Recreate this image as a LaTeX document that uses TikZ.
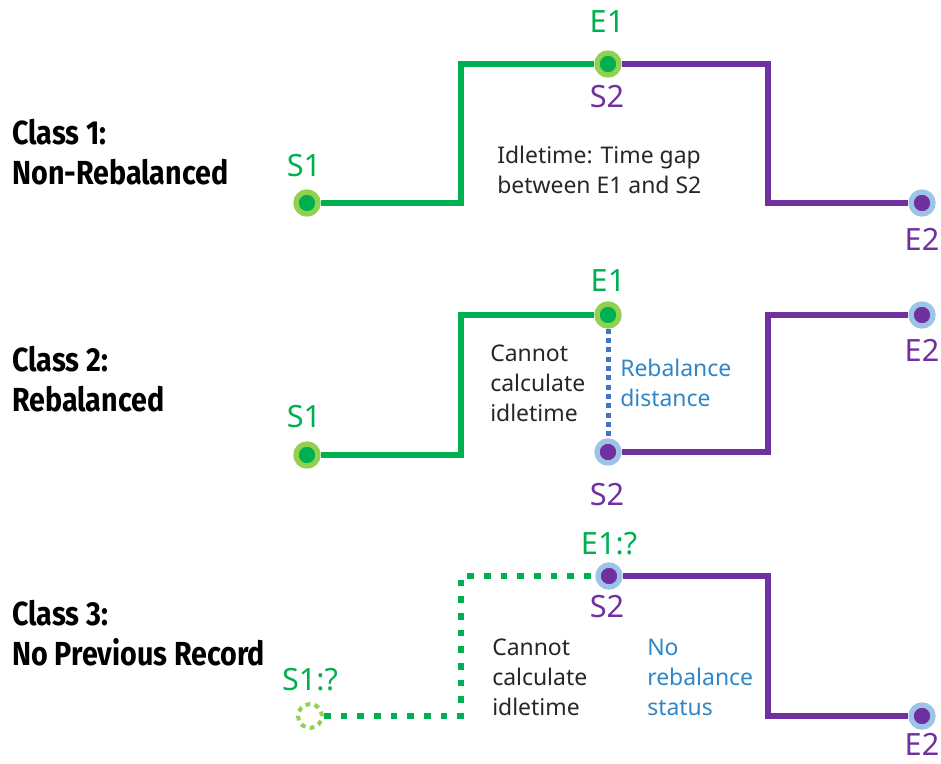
\documentclass[tikz,border=0pt]{standalone}
\usepackage{fontspec}
\setmainfont{Noto Sans}
\newfontfamily\classfont[FakeStretch=0.86]{Fira Sans}
\usetikzlibrary{positioning,backgrounds}
\definecolor{TripGreen}{RGB}{0,176,80}
\definecolor{LightGreen}{RGB}{146,208,80}
\definecolor{TripPurple}{RGB}{112,48,160}
\definecolor{LightBlue}{RGB}{157,195,230}
\definecolor{NoteBlue}{RGB}{46,134,200}
\definecolor{DotBlue}{RGB}{68,114,196}

\begin{document}
\begin{tikzpicture}[
    x=0.75pt, y=-0.75pt,
    dot/.style={circle, inner sep=0pt, minimum size=16.5pt,
                line width=4pt, draw=#1},
    gdot/.style={dot=LightGreen, fill=TripGreen},
    pdot/.style={dot=LightBlue, fill=TripPurple},
    qdot/.style={circle, inner sep=0pt, minimum size=18pt, draw=LightGreen,
                 line width=3pt, dash pattern=on 3.5pt off 3.5pt},
    gline/.style={line width=4.5pt, draw=TripGreen},
    pline/.style={line width=4.5pt, draw=TripPurple},
    qline/.style={line width=5pt, draw=TripGreen, dash pattern=on 5pt off 7.5pt},
    bline/.style={line width=3.75pt, draw=DotBlue, dash pattern=on 3.75pt off 3.25pt},
    lbl/.style={inner sep=0pt, font=\fontsize{23}{27}\selectfont, text=#1},
    note/.style={inner sep=0pt, anchor=west, align=left,
                 font=\fontsize{17.2}{22.5}\selectfont, text=#1},
    note/.default=black!85,
    classlbl/.style={inner sep=0pt, anchor=west, align=left,
                     font=\classfont\bfseries\fontsize{25}{30}\selectfont},
]
\useasboundingbox (0,0) rectangle (941,763);

% ── Class labels ──
\node[classlbl] (cls1) at (12,152) {Class 1:\\Non-Rebalanced};
\node[classlbl] (cls2) at (12,379) {Class 2:\\Rebalanced};
\node[classlbl] (cls3) at (12,633) {Class 3:\\No Previous Record};

% ── Class 1 ──
\node[gdot] (s1a) at (307,203) {};
\node[gdot] (e1a) at (608,64) {};
\node[pdot] (e2a) at (922,203) {};
\coordinate (k1a) at (461,203);
\coordinate (k1b) at (461,64);
\coordinate (k1c) at (768,64);
\coordinate (k1d) at (768,203);
\node[lbl=TripGreen] (s1alab) at (304,166) {S1};
\node[lbl=TripGreen] (e1alab) at (607,22) {E1};
\node[lbl=TripPurple] (s2alab) at (607,97) {S2};
\node[lbl=TripPurple] (e2alab) at (922,239) {E2};
\node[note] (idle) at (497,170) {Idletime: Time gap\\between E1 and S2};

% ── Class 2 ──
\node[gdot] (s1b) at (307,455) {};
\node[gdot] (e1b) at (608,315) {};
\node[pdot] (s2b) at (608,452) {};
\node[pdot] (e2b) at (922,315) {};
\coordinate (k2a) at (461,455);
\coordinate (k2b) at (461,315);
\coordinate (k2c) at (768,452);
\coordinate (k2d) at (768,315);
\node[lbl=TripGreen] (s1blab) at (304,417) {S1};
\node[lbl=TripGreen] (e1blab) at (608,281) {E1};
\node[lbl=TripPurple] (s2blab) at (607,495) {S2};
\node[lbl=TripPurple] (e2blab) at (922,350) {E2};
\node[note] (nocalcb) at (490,383) {Cannot\\calculate\\idletime};
\node[note=NoteBlue] (rebdist) at (620,383) {Rebalance\\distance};

% ── Class 3 ──
\node[qdot] (s1c) at (310,716) {};
\node[pdot] (s2c) at (609,576) {};
\node[pdot] (e2c) at (922,716) {};
\coordinate (k3a) at (461,716);
\coordinate (k3b) at (461,576);
\coordinate (k3c) at (768,576);
\coordinate (k3d) at (768,716);
\node[lbl=TripGreen] (s1clab) at (310,680) {S1:?};
\node[lbl=TripGreen] (e1clab) at (609,544) {E1:?};
\node[lbl=TripPurple] (s2clab) at (607,607) {S2};
\node[lbl=TripPurple] (e2clab) at (922,744) {E2};
\node[note] (nocalcc) at (492,677) {Cannot\\calculate\\idletime};
\node[note=NoteBlue] (norebal) at (647,677) {No\\rebalance\\status};

% ── Trip lines, kept behind the dots ──
\begin{scope}[on background layer]
\draw[gline] (s1a) -- (k1a) -- (k1b) -- (e1a);
\draw[pline] (e1a) -- (k1c) -- (k1d) -- (e2a);
\draw[gline] (s1b) -- (k2a) -- (k2b) -- (e1b);
\draw[bline] (e1b) -- (s2b);
\draw[pline] (s2b) -- (k2c) -- (k2d) -- (e2b);
\draw[qline] (s1c) -- (k3a) -- (k3b) -- (s2c);
\draw[pline] (s2c) -- (k3c) -- (k3d) -- (e2c);
\end{scope}

\end{tikzpicture}
\end{document}
